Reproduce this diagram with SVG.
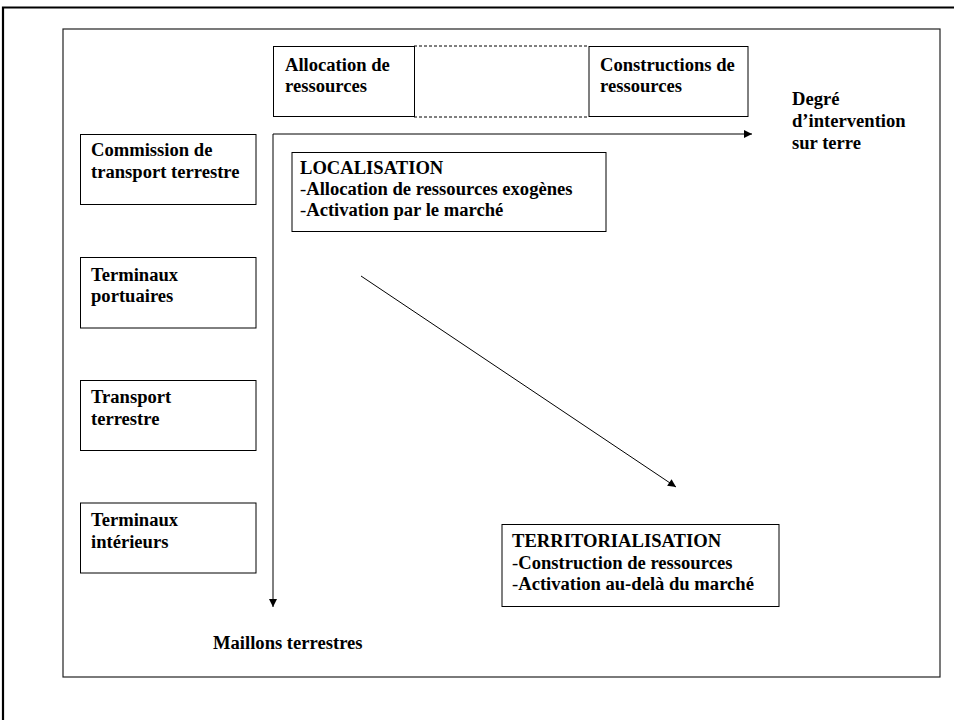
<svg xmlns="http://www.w3.org/2000/svg" width="954" height="720" viewBox="0 0 954 720">
<style>
  text { font-family: "Liberation Serif", "Times New Roman", serif; font-weight: bold; font-size: 18.6px; fill: #000; }
  .reg { font-weight: normal; }
  .box { fill: #fff; stroke: #000; stroke-width: 1; }
  .line { fill: none; stroke: #000; stroke-width: 1; }
  .dash { fill: none; stroke: #000; stroke-width: 1; stroke-dasharray: 3 2; }
</style>
<defs>
  <marker id="arr" viewBox="0 0 10 10" refX="10" refY="5" markerWidth="9" markerHeight="8" markerUnits="userSpaceOnUse" orient="auto">
    <path d="M0,0 L10,5 L0,10 z" fill="#000"/>
  </marker>
</defs>
<rect width="954" height="720" fill="#fff"/>
<path d="M3,720 V7.5 H954" fill="none" stroke="#000" stroke-width="2.2"/>
<rect x="63" y="29" width="877" height="648" fill="none" stroke="#222" stroke-width="1.2"/>

<g id="connectors">
  <line class="dash" x1="414" y1="46" x2="589" y2="46"/>
  <line class="dash" x1="414" y1="117" x2="589" y2="117"/>
  <line class="line" x1="273" y1="134" x2="752" y2="134" marker-end="url(#arr)"/>
  <line class="line" x1="273" y1="134" x2="273" y2="607" marker-end="url(#arr)"/>
  <line class="line" x1="361" y1="276" x2="676" y2="487" marker-end="url(#arr)"/>
</g>

<g id="allocation">
  <rect class="box" x="273.5" y="46.5" width="141" height="70"/>
  <text x="285" y="71">Allocation de</text>
  <text x="285" y="92">ressources</text>
</g>
<g id="constructions">
  <rect class="box" x="589" y="46.5" width="159" height="70"/>
  <text x="600" y="71">Constructions de</text>
  <text x="600" y="92">ressources</text>
</g>
<g id="degre">
  <text x="792" y="105">Degré</text>
  <text x="792" y="127">d’intervention</text>
  <text x="792" y="149">sur terre</text>
</g>
<g id="commission">
  <rect class="box" x="80.5" y="134.5" width="175.5" height="70"/>
  <text x="91" y="156">Commission de</text>
  <text x="91" y="177.5">transport terrestre</text>
</g>
<g id="portuaires">
  <rect class="box" x="80.5" y="257.5" width="175.5" height="70.5"/>
  <text x="91" y="280.5">Terminaux</text>
  <text x="91" y="302">portuaires</text>
</g>
<g id="transport">
  <rect class="box" x="80.5" y="380.5" width="175.5" height="70"/>
  <text x="91" y="403">Transport</text>
  <text x="91" y="424.5">terrestre</text>
</g>
<g id="interieurs">
  <rect class="box" x="80.5" y="503" width="175.5" height="70"/>
  <text x="91" y="526">Terminaux</text>
  <text x="91" y="547.5">intérieurs</text>
</g>
<g id="localisation">
  <rect class="box" x="292" y="152.5" width="314" height="79"/>
  <text x="300" y="174">LOCALISATION</text>
  <text x="300" y="195"><tspan class="reg">-</tspan>Allocation de ressources exogènes</text>
  <text x="300" y="216"><tspan class="reg">-</tspan>Activation par le marché</text>
</g>
<g id="territorialisation">
  <rect class="box" x="502" y="524.5" width="277" height="82"/>
  <text x="512" y="547">TERRITORIALISATION</text>
  <text x="512" y="568.5"><tspan class="reg">-</tspan>Construction de ressources</text>
  <text x="512" y="590"><tspan class="reg">-</tspan>Activation au-delà du marché</text>
</g>
<g id="maillons">
  <text x="213" y="649">Maillons terrestres</text>
</g>
</svg>
